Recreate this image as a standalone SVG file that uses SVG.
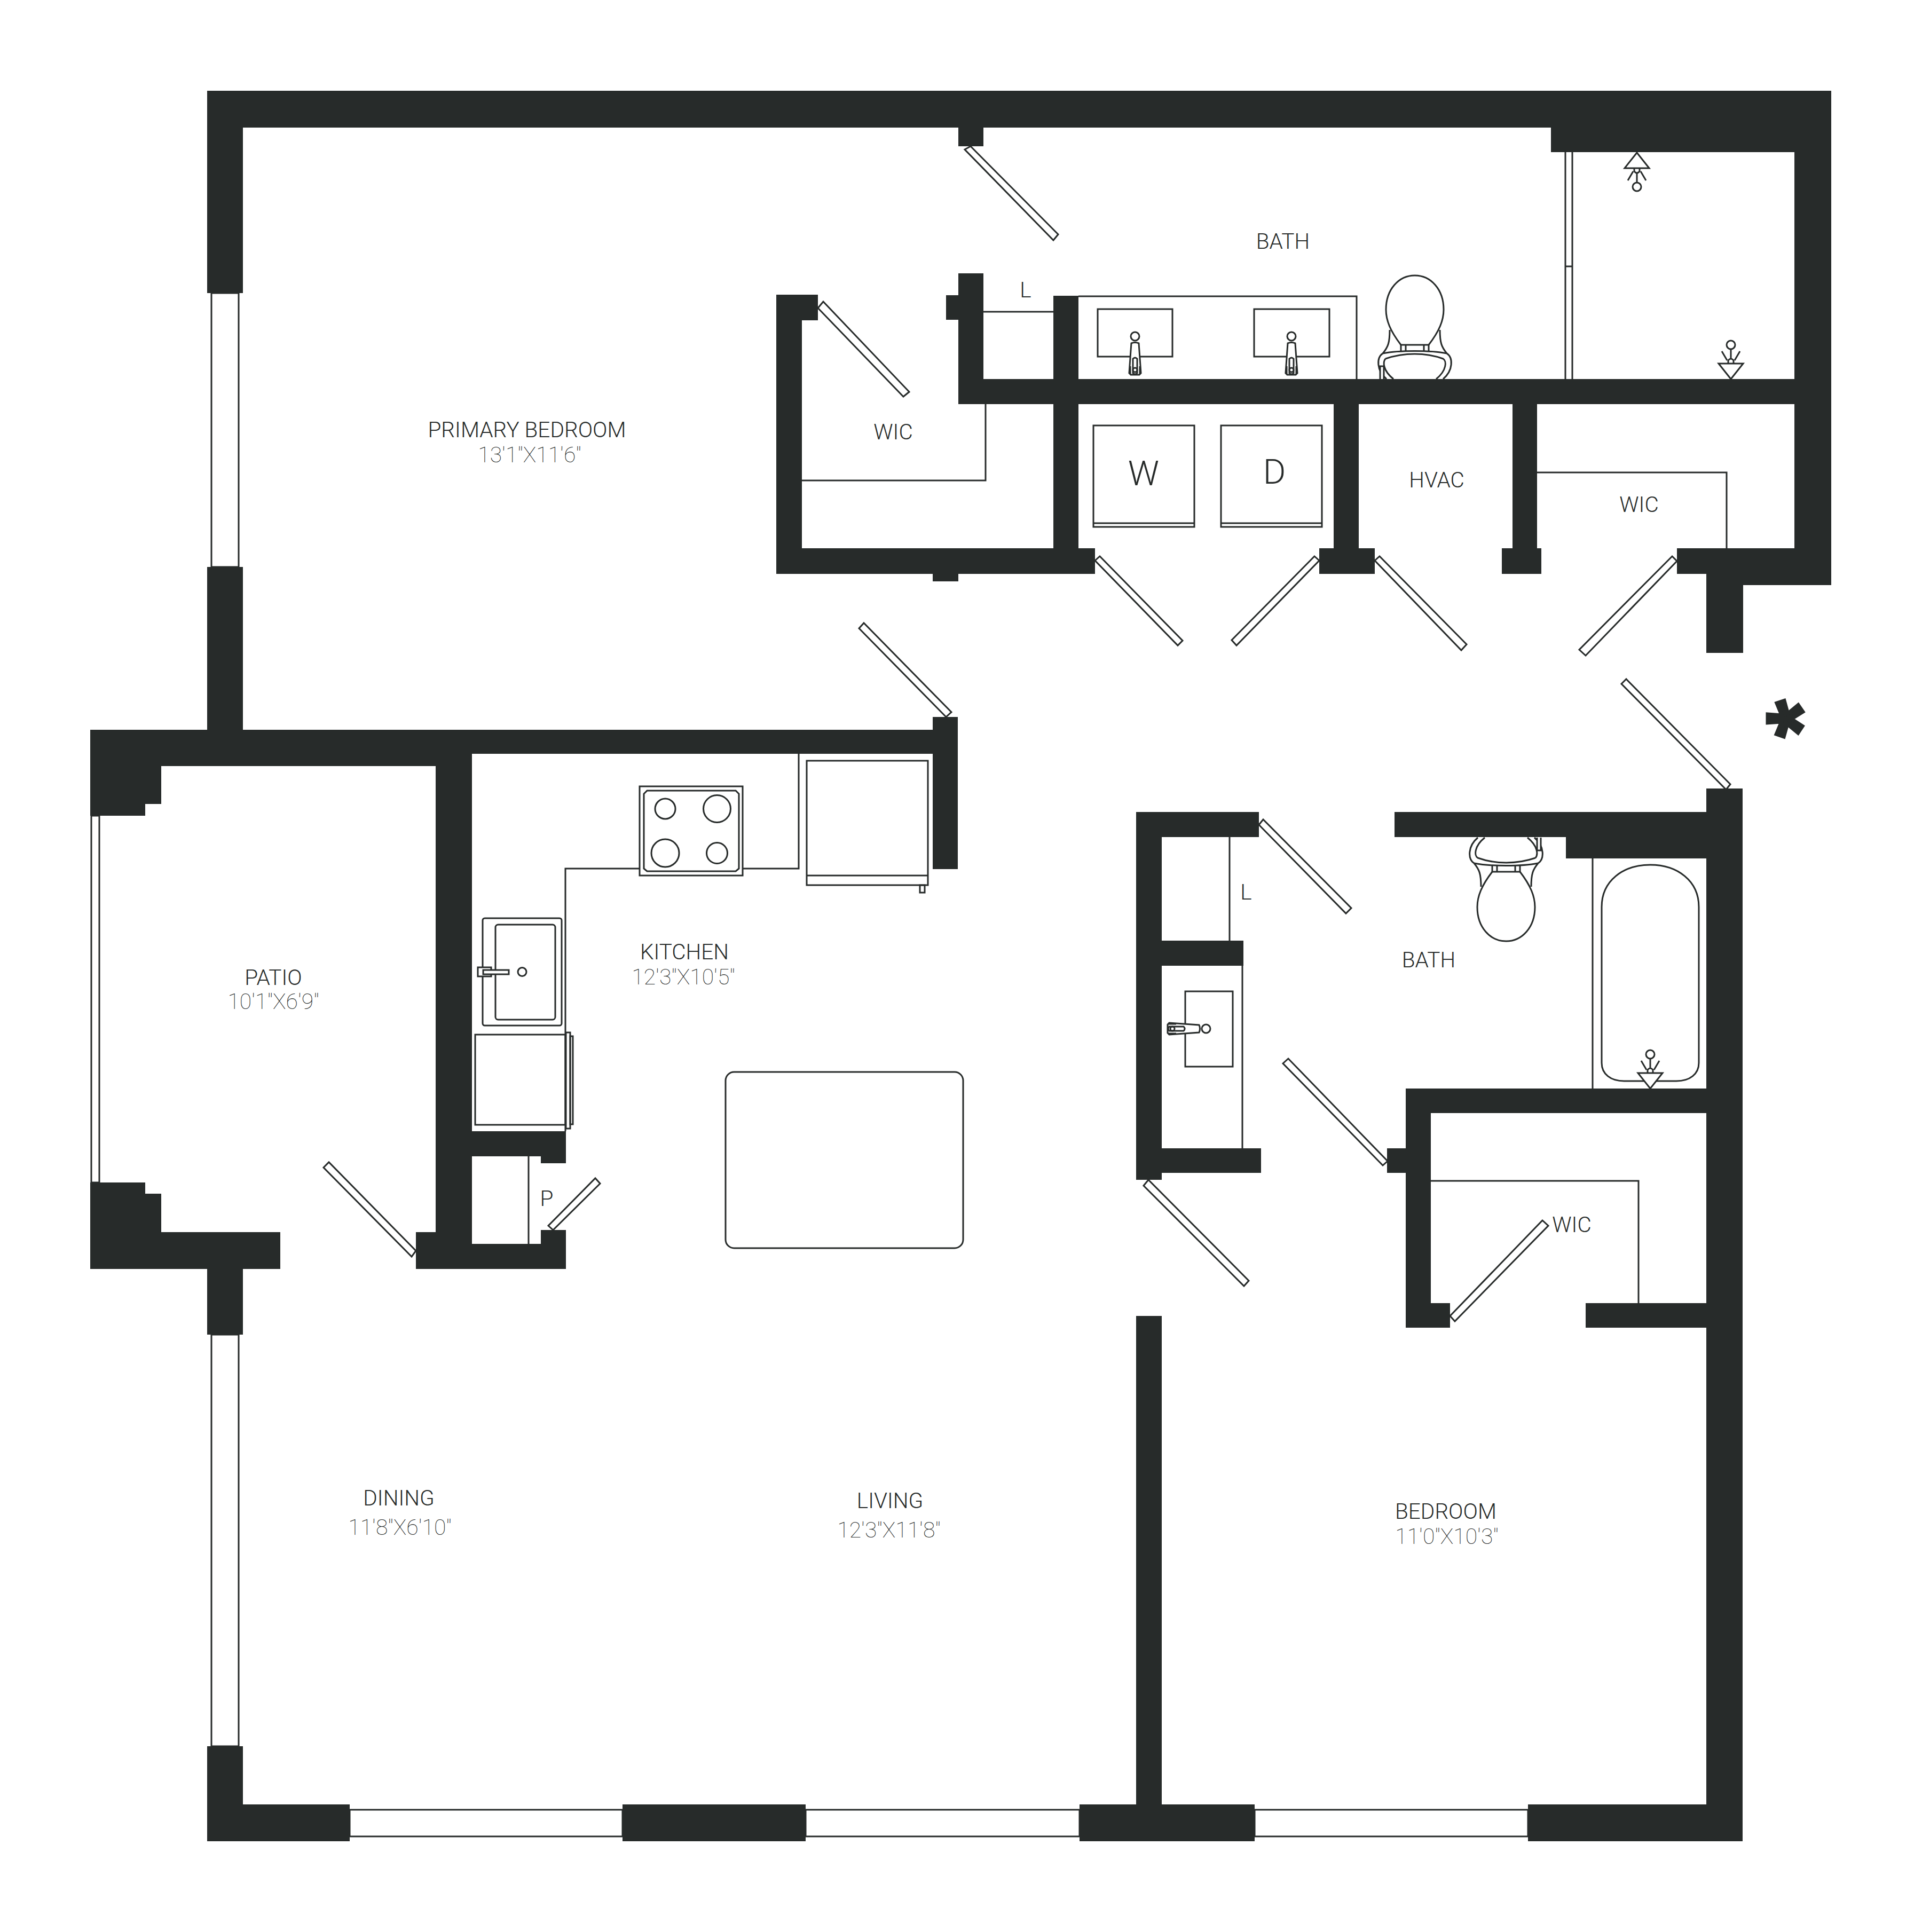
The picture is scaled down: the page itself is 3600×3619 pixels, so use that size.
<svg xmlns="http://www.w3.org/2000/svg" width="3600" height="3619" viewBox="0 0 3600 3619">
<style>
.w{fill:#272b2a}
.l{fill:none;stroke:#272b2a;stroke-width:3}
.d{fill:#fff;stroke:#272b2a;stroke-width:3}
.t{font-family:Roboto,"Liberation Sans",sans-serif;font-weight:300;font-size:40.500px;fill:#272b2a;text-anchor:middle}
.s{font-family:Roboto,"Liberation Sans",sans-serif;font-weight:100;font-size:41px;fill:#272b2a;text-anchor:middle}
</style>
<defs>
<g id="toilet">
<path class="l" d="M-60-48C-72-40-72-16-53 0M60-48C72-40 72-16 53 0"/>
<path class="l" d="M-60-48C-30-54 30-54 60-48"/>
<path class="l" d="M-55-38C-20-50 20-50 53-38C60-34 60-16 40 0M-55-38C-60-32-60-16-40 0"/>
<path class="l" d="M-60-48C-50-60-47-68-47-92M60-48C50-60 47-68 47-92"/>
<path class="l" d="M-26-52V-64H-17V-52M26-52V-64H17V-52M-26-64H26"/>
<path class="l" d="M-26-64C-46-90-54-110-54-130C-54-168-30-194 0-194C30-194 54-168 54-130C54-110 46-90 26-64"/>
<path class="d" d="M-65 0V-24H-58V0"/>
</g>
<g id="spout">
<path class="d" d="M0 0L-23-29H23Z"/>
<path class="l" d="M-5-29V-35Q0-41 5-35V-29M0-38V-56"/>
<path class="l" d="M-7-35L-17-52M7-35L17-52"/>
<ellipse class="l" cx="0" cy="-64" rx="8" ry="8"/>
</g>
<g id="faucet">
<path class="d" d="M-11-3L-8 0H8L11-3L7-59Q0-62-7-59Z"/>
<path class="l" d="M-4-3V-30Q0-34 4-30V-3Q0 1-4-3Z"/>
<circle class="l" cx="0" cy="-9" r="4"/>
<path class="l" d="M-9-1V-16M9-1V-16"/>
<circle class="l" cx="0" cy="-72" r="8"/>
</g>
</defs>
<rect width="3600" height="3619" fill="#fff"/>
<g id="walls" class="w">
<path d="M388 170H3430V1096H3265V1223H3196V1075H3141V1027H3361V757H2879V1027H2887V1075H2813V1027H2833V757H2545V1027H2575V1075H2471V1027H2498V757H2020V1027H2051V1075H1795V1089H1747V1075H1454V552H1532V600H1502V1027H1973V757H1795V599H1772V553H1795V512H1842V710H1973V554H2020V710H3361V285H2905V239H1842V274H1795V239H455V549H388Z"/>
<path d="M388 1062H455V1367H1747V1343H1794V1628H1747V1412H884V2119H1060V2179H1013V2166H884V2330H1013V2304H1060V2377H779V2308H816V1435H302V1506H272V1528H169V1367H388Z"/>
<path d="M169 2215H272V2236H302V2308H525V2377H455V2500H388V2377H169Z"/>
<path d="M388 3271H455V3380H655V3449H388Z"/>
<rect x="1166" y="3380" width="343" height="69"/>
<path d="M2128 2465H2176V3380H2350V3449H2022V3380H2128Z"/>
<path d="M2128 1521H2358V1568H2176V1762H2329V1809H2176V2151H2362V2197H2176V2210H2128Z"/>
<path d="M2612 1521H3196V1477H3264V3449H2862V3380H3196V2487H2970V2441H3196V2085H2680V2441H2716V2487H2633V2197H2598V2151H2633V2039H3196V1608H2933V1568H2612Z"/>
</g>
<g id="windows" class="d">
<rect x="396" y="549" width="51" height="513"/>
<rect x="171" y="1528" width="15" height="687"/>
<rect x="396" y="2500" width="51" height="771"/>
<rect x="655" y="3390" width="511" height="50"/>
<rect x="1509" y="3390" width="513" height="50"/>
<rect x="2350" y="3390" width="512" height="50"/>
<path d="M2932 285V710M2945 285V710M2932 499H2945"/>
</g>
<g id="doors" class="d">
<path d="M1807 280L1818 274L1982 439L1973 450Z"/>
<path d="M1532 577L1542 565L1703 734L1692 743Z"/>
<path d="M2051 1050L2060 1042L2215 1200L2206 1209Z"/>
<path d="M2462 1042L2471 1050L2316 1209L2307 1199Z"/>
<path d="M2575 1050L2584 1042L2747 1207L2737 1218Z"/>
<path d="M3132 1042L3141 1051L2970 1228L2958 1217Z"/>
<path d="M1609 1177L1618 1167L1782 1334L1772 1343Z"/>
<path d="M3037 1281L3046 1272L3241 1469L3233 1479Z"/>
<path d="M2358 1545L2366 1535L2531 1701L2521 1711Z"/>
<path d="M2403 1992L2413 1983L2599 2175L2590 2183Z"/>
<path d="M2142 2221L2151 2210L2339 2399L2330 2409Z"/>
<path d="M2716 2465L2725 2475L2900 2296L2889 2286Z"/>
<path d="M606 2187L616 2177L779 2343L771 2354Z"/>
<path d="M1027 2296L1036 2304L1124 2217L1115 2207Z"/>
</g>
<g id="fixtures" class="l">
<path d="M1842 584H1973M2020 555H2541V710M1846 757V900H1502"/>
<path d="M2879 885H3234V1027"/>
<path d="M1059 2119V1627H1197M1391 1627H1496V1412"/>
<path d="M990 2166V2330M2303 1568V1762M2327 1809V2151M2983 1608V2039M2680 2212H3069V2441"/>
<rect x="2056" y="579" width="140" height="89"/>
<rect x="2349" y="579" width="141" height="89"/>
<use href="#faucet" transform="translate(2126 702)"/>
<use href="#faucet" transform="translate(2419 702)"/>
<use href="#toilet" transform="translate(2650 710)"/>
<use href="#toilet" transform="translate(2821 1569) rotate(180)"/>
<path d="M3000 1699C3000 1650 3040 1620 3091 1620C3142 1620 3182 1650 3182 1699V1991C3182 2012 3165 2025 3140 2025H3042C3017 2025 3000 2012 3000 1991Z"/>
<use href="#spout" transform="translate(3066 286) rotate(180)"/>
<use href="#spout" transform="translate(3242 710)"/>
<use href="#spout" transform="translate(3091 2039)"/>
<rect x="2048" y="797" width="189" height="190"/>
<path d="M2048 980H2237"/>
<rect x="2287" y="797" width="189" height="190"/>
<path d="M2287 980H2476"/>
<rect x="2220" y="1857" width="89" height="141"/>
<use href="#faucet" transform="translate(2187 1927) rotate(90)"/>
<rect x="904" y="1720" width="148" height="201" rx="4"/>
<rect x="928" y="1732" width="112" height="178" rx="5"/>
<path class="d" d="M895 1812H920V1829H895Z"/>
<path class="d" d="M905 1817H953V1825H905Z"/>
<circle cx="978" cy="1820.500" r="8"/>
<rect x="890" y="1938" width="169" height="169"/>
<rect x="1060" y="1934" width="8" height="180"/>
<rect x="1068" y="1941" width="5" height="165"/>
<rect x="1198" y="1473" width="193" height="167"/>
<path d="M1212 1481H1378L1384 1487V1627L1378 1632H1212L1206 1627V1487Z"/>
<circle cx="1246" cy="1515" r="19"/>
<circle cx="1343" cy="1515" r="25.500"/>
<circle cx="1246" cy="1598" r="26"/>
<circle cx="1343" cy="1598" r="19.500"/>
<rect x="1511" y="1425" width="227" height="233"/>
<path d="M1511 1640H1738"/>
<rect x="1723" y="1658" width="9" height="14"/>
<rect x="1359" y="2008" width="445" height="330" rx="16"/>
</g>
<g id="labels">
<text class="t" x="987" y="819">PRIMARY BEDROOM</text>
<text class="s" x="992" y="866">13'1"X11'6"</text>
<text class="t" x="2403" y="466">BATH</text>
<text class="t" x="1921" y="557">L</text>
<text class="t" x="1673" y="823">WIC</text>
<text class="t" x="2142" y="909" style="font-size:65px">W</text>
<text class="t" x="2387" y="906" style="font-size:65px">D</text>
<text class="t" x="2691" y="913">HVAC</text>
<text class="t" x="3070" y="959">WIC</text>
<text class="t" x="2676" y="1812">BATH</text>
<text class="t" x="2334" y="1685">L</text>
<text class="t" x="2944" y="2308">WIC</text>
<text class="t" x="512" y="1845">PATIO</text>
<text class="s" x="512" y="1890">10'1"X6'9"</text>
<text class="t" x="1282" y="1797">KITCHEN</text>
<text class="s" x="1280" y="1844">12'3"X10'5"</text>
<text class="t" x="1024" y="2259">P</text>
<text class="t" x="747" y="2820">DINING</text>
<text class="s" x="749" y="2875">11'8"X6'10"</text>
<text class="t" x="1667" y="2825">LIVING</text>
<text class="s" x="1665" y="2880">12'3"X11'8"</text>
<text class="t" x="2708" y="2845">BEDROOM</text>
<text class="s" x="2710" y="2892">11'0"X10'3"</text>
<text transform="translate(3343 1347) rotate(-90)" x="0" y="75" style="font-family:Roboto,sans-serif;font-weight:900;font-size:150px;fill:#272b2a;stroke:#272b2a;stroke-width:7;text-anchor:middle">*</text>
</g>
</svg>
